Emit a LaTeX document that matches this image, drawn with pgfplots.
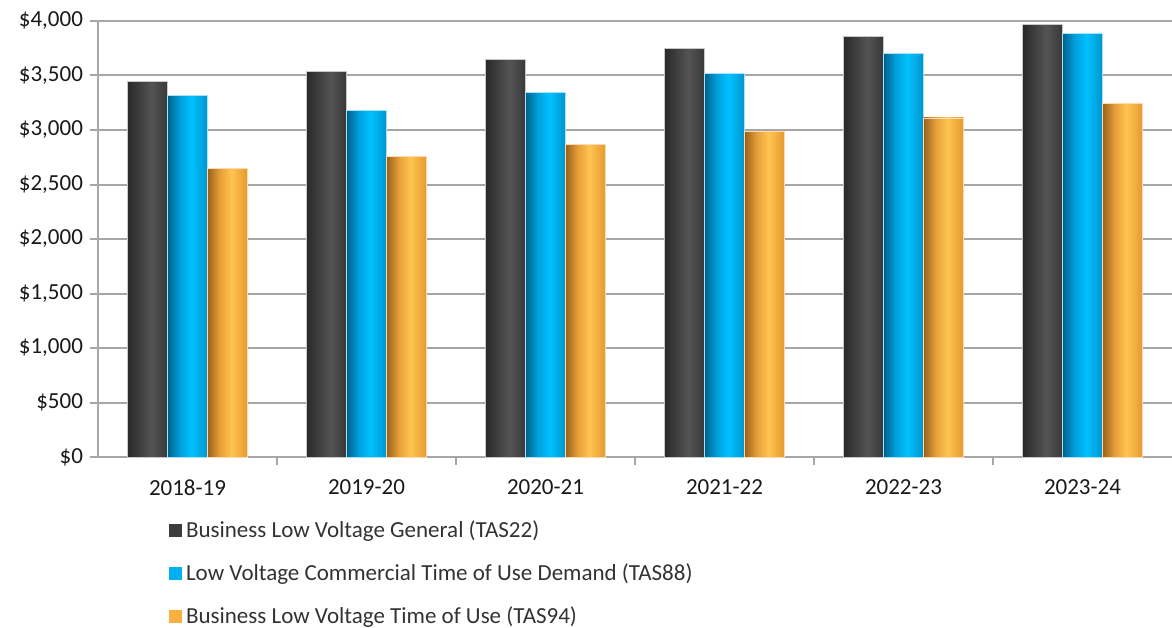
\documentclass[border=0pt]{standalone}
\usepackage{pgfplots}
\pgfplotsset{compat=1.18}
\usepackage{fontspec}
\setmainfont{Carlito}
\definecolor{gridgray}{HTML}{A6A6A6}
\definecolor{legblack}{HTML}{3C3C3C}
\definecolor{legblue}{HTML}{00B0F0}
\definecolor{legorange}{HTML}{F8B040}
\pgfdeclarehorizontalshading{blackbar}{100bp}{rgb(0bp)=(0.16,0.16,0.16); rgb(25bp)=(0.16,0.16,0.16); rgb(55bp)=(0.33,0.33,0.33); rgb(75bp)=(0.22,0.22,0.22); rgb(100bp)=(0.22,0.22,0.22)}
\pgfdeclarehorizontalshading{bluebar}{100bp}{rgb(0bp)=(0,0.38,0.54); rgb(25bp)=(0,0.38,0.54); rgb(40bp)=(0,0.62,0.86); rgb(55bp)=(0,0.76,1.0); rgb(75bp)=(0,0.58,0.80); rgb(100bp)=(0,0.58,0.80)}
\pgfdeclarehorizontalshading{orangebar}{100bp}{rgb(0bp)=(0.60,0.38,0.10); rgb(25bp)=(0.60,0.38,0.10); rgb(40bp)=(0.90,0.62,0.22); rgb(55bp)=(1.0,0.77,0.32); rgb(75bp)=(0.90,0.60,0.18); rgb(100bp)=(0.90,0.60,0.18)}
\pgfplotsset{
  blk/.style={forget plot, ybar, bar width=20pt, bar shift=-20pt, shade, shading=blackbar, draw=white!78!black, line width=0.4pt},
  blu/.style={forget plot, ybar, bar width=20pt, bar shift=0pt, shade, shading=bluebar, draw=cyan!35!white, line width=0.4pt},
  org/.style={forget plot, ybar, bar width=20pt, bar shift=20pt, shade, shading=orangebar, draw=orange!30!white, line width=0.4pt},
}
\begin{document}
\begin{tikzpicture}
\useasboundingbox (-49pt,-85pt) rectangle (537pt,228.5pt);
\begin{axis}[
  scale only axis, width=537pt, height=218pt,
  xmin=-0.5, xmax=5.5, ymin=0, ymax=4000,
  axis lines*=left,
  axis line style={draw=gridgray, line width=1pt},
  xtick={0,1,2,3,4,5},
  xticklabels={2018-19,2019-20,2020-21,2021-22,2022-23,2023-24},
  xtick style={draw=none},
  extra x ticks={0.5,1.5,2.5,3.5,4.5},
  extra x tick labels={},
  extra x tick style={grid=none, xtick style={draw=gridgray, line width=1pt}},
  ytick={0,500,1000,1500,2000,2500,3000,3500,4000},
  yticklabels={\$0,\$500,{\$1,000},{\$1,500},{\$2,000},{\$2,500},{\$3,000},{\$3,500},{\$4,000}},
  ytick style={draw=gridgray, line width=1pt},
  tick align=outside, major tick length=4pt,
  ymajorgrids, grid style={draw=gridgray, line width=1pt},
  tick label style={font=\fontsize{11.5}{13.8}\selectfont, text=black!90},
  xticklabel style={yshift=-4pt},
  legend image code/.code={\fill[#1] (0pt,-3.3pt) rectangle (6.6pt,3.3pt);},
  legend style={at={(axis description cs:0.066,-0.137)}, anchor=north west,
    draw=none, fill=none, inner sep=0pt, row sep=7.9pt,
    font=\fontsize{11.5}{13.8}\selectfont, text=black!80,
    nodes={inner sep=1.8pt}},
  legend cell align=left,
]
% Business Low Voltage General (TAS22)
\addplot[blk] coordinates {(0,3442)};
\addplot[blk] coordinates {(1,3540)};
\addplot[blk] coordinates {(2,3645)};
\addplot[blk] coordinates {(3,3749)};
\addplot[blk] coordinates {(4,3859)};
\addplot[blk] coordinates {(5,3966)};
% Low Voltage Commercial Time of Use Demand (TAS88)
\addplot[blu] coordinates {(0,3314)};
\addplot[blu] coordinates {(1,3176)};
\addplot[blu] coordinates {(2,3341)};
\addplot[blu] coordinates {(3,3516)};
\addplot[blu] coordinates {(4,3700)};
\addplot[blu] coordinates {(5,3883)};
% Business Low Voltage Time of Use (TAS94)
\addplot[org] coordinates {(0,2646)};
\addplot[org] coordinates {(1,2756)};
\addplot[org] coordinates {(2,2869)};
\addplot[org] coordinates {(3,2986)};
\addplot[org] coordinates {(4,3111)};
\addplot[org] coordinates {(5,3240)};
\addlegendimage{fill=legblack, draw=none}
\addlegendentry{Business Low Voltage General (TAS22)}
\addlegendimage{fill=legblue, draw=none}
\addlegendentry{Low Voltage Commercial Time of Use Demand (TAS88)}
\addlegendimage{fill=legorange, draw=none}
\addlegendentry{Business Low Voltage Time of Use (TAS94)}
\end{axis}
\end{tikzpicture}
\end{document}
